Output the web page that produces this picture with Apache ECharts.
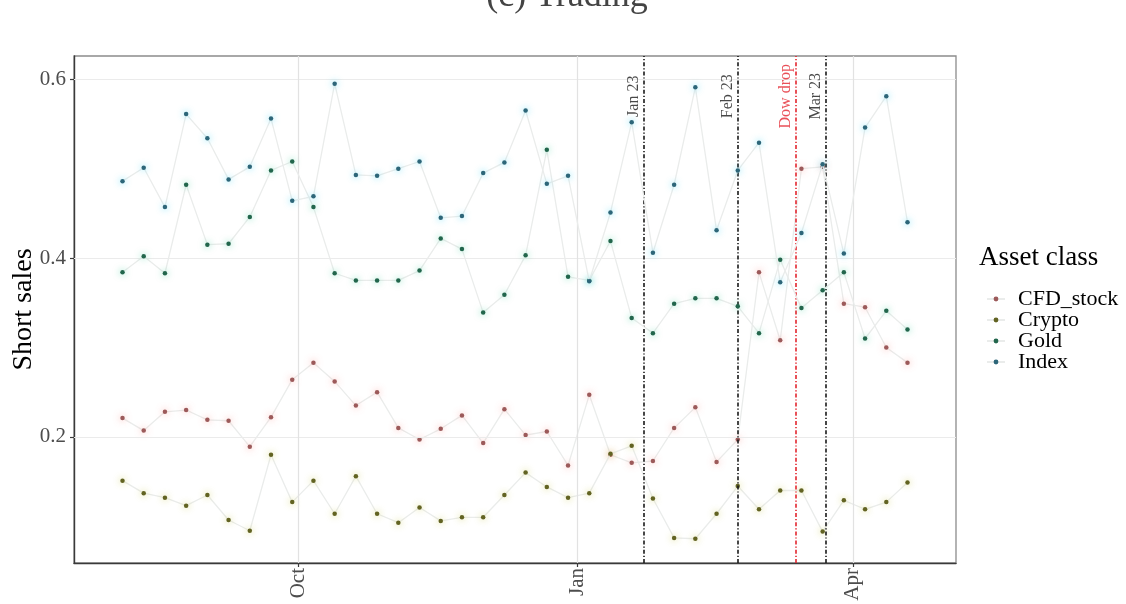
<!DOCTYPE html>
<html>
<head>
<meta charset="utf-8">
<script src="https://cdn.jsdelivr.net/npm/echarts@6/dist/echarts.min.js"></script>
<style>
  html, body { margin: 0; padding: 0; background: #fff; }
  #chart { width: 1126px; height: 604px; }
</style>
</head>
<body>
<div id="chart"></div>
<script>
// Weekly observation dates
const weeks = [
  '2019-08-04','2019-08-11','2019-08-18','2019-08-25',
  '2019-09-01','2019-09-08','2019-09-15','2019-09-22','2019-09-29',
  '2019-10-06','2019-10-13','2019-10-20','2019-10-27',
  '2019-11-03','2019-11-10','2019-11-17','2019-11-24',
  '2019-12-01','2019-12-08','2019-12-15','2019-12-22','2019-12-29',
  '2020-01-05','2020-01-12','2020-01-19','2020-01-26',
  '2020-02-02','2020-02-09','2020-02-16','2020-02-23',
  '2020-03-01','2020-03-08','2020-03-15','2020-03-22','2020-03-29',
  '2020-04-05','2020-04-12','2020-04-19'
];

// Share of short sales by asset class
const cfdStock = [
  0.221, 0.207, 0.228, 0.230, 0.219, 0.218, 0.189, 0.222, 0.264,
  0.283, 0.262, 0.235, 0.250, 0.210, 0.197, 0.209, 0.224, 0.193, 0.231,
  0.202, 0.206, 0.168, 0.247, 0.180, 0.171, 0.173, 0.210, 0.233,
  0.172, 0.197, 0.384, 0.308, 0.500, 0.502, 0.349, 0.345, 0.300, 0.283
];
const crypto = [
  0.151, 0.137, 0.132, 0.123, 0.135, 0.107, 0.095, 0.180, 0.127,
  0.151, 0.114, 0.156, 0.114, 0.104, 0.121, 0.106, 0.110, 0.110, 0.135,
  0.160, 0.144, 0.132, 0.137, 0.181, 0.190, 0.131, 0.087, 0.086,
  0.114, 0.145, 0.119, 0.140, 0.140, 0.094, 0.129, 0.119, 0.127, 0.149
];
const gold = [
  0.384, 0.402, 0.383, 0.482, 0.415, 0.416, 0.446, 0.498, 0.508,
  0.457, 0.383, 0.375, 0.375, 0.375, 0.386, 0.422, 0.410, 0.339, 0.359,
  0.403, 0.521, 0.379, 0.375, 0.419, 0.333, 0.316, 0.349, 0.355,
  0.355, 0.346, 0.316, 0.398, 0.344, 0.364, 0.384, 0.310, 0.341, 0.320
];
const indexCls = [
  0.486, 0.501, 0.457, 0.561, 0.534, 0.488, 0.502, 0.556, 0.464,
  0.469, 0.595, 0.493, 0.492, 0.500, 0.508, 0.445, 0.447, 0.495, 0.507,
  0.565, 0.483, 0.492, 0.374, 0.451, 0.552, 0.406, 0.482, 0.591,
  0.431, 0.498, 0.529, 0.373, 0.428, 0.505, 0.405, 0.546, 0.581, 0.440
];

// Marked events
const eventDates = ['2020-01-23', '2020-02-23', '2020-03-13', '2020-03-23'];
const eventNames = ['Jan 23', 'Feb 23', 'Dow drop', 'Mar 23'];

// Axis breaks
const yTicks = [0.2, 0.4, 0.6];
const xTicks = ['2019-10-01', '2020-01-01', '2020-04-01'];
const xTickLabels = ['Oct', 'Jan', 'Apr'];

const FONT = '"Liberation Serif", "Times New Roman", serif';

// timestamp (UTC midnight) for a date string
function ts(s) {
  const p = s.split('-').map(Number);
  return Date.UTC(p[0], p[1] - 1, p[2]);
}

const xMin = ts('2019-07-19');
const xMax = ts('2020-05-05');
const yMin = 0.0589;
const yMax = 0.626;
const xTickTs = xTicks.map(ts);
const eventLabelY = 0.581;

const classes = [
  { name: 'CFD_stock', values: cfdStock, dot: '#9c5a5a', glow: 'rgba(248,118,109,0.7)' },
  { name: 'Crypto',    values: crypto,   dot: '#626322', glow: 'rgba(190,190,40,0.75)' },
  { name: 'Gold',      values: gold,     dot: '#22664c', glow: 'rgba(0,191,125,0.65)' },
  { name: 'Index',     values: indexCls, dot: '#2d6679', glow: 'rgba(0,200,240,0.7)' }
];

const dataSeries = classes.map((c, k) => ({
  name: c.name,
  type: 'line',
  z: 3 + k,
  symbol: 'circle',
  symbolSize: 4.5,
  showSymbol: true,
  data: weeks.map((w, i) => [ts(w), c.values[i]]),
  lineStyle: { color: '#eaeceb', width: 1.3 },
  itemStyle: { color: c.dot, shadowColor: c.glow, shadowBlur: 7 },
  emphasis: { disabled: true }
}));

// background grid lines at the axis breaks
const gridSeries = {
  name: 'grid',
  type: 'scatter',
  z: 1,
  silent: true,
  symbolSize: 0,
  data: [[xTickTs[0], yTicks[0]]],
  markLine: {
    silent: true,
    symbol: ['none', 'none'],
    label: { show: false },
    animation: false,
    data: yTicks.map(v => ({ yAxis: v, lineStyle: { color: '#ebebeb', width: 1.2, type: 'solid' } }))
      .concat(xTickTs.map(t => ({ xAxis: t, lineStyle: { color: '#e2e2e2', width: 1.2, type: 'solid' } })))
  }
};

// event lines with their rotated labels
const eventColor = n => (n === 'Dow drop' ? '#e3262f' : '#1a1a1a');
const eventSeries = {
  name: 'events',
  type: 'scatter',
  z: 8,
  silent: true,
  symbolSize: 0,
  data: eventDates.map((d, i) => ({
    value: [ts(d), eventLabelY],
    name: eventNames[i],
    label: { color: eventColor(eventNames[i]) }
  })),
  label: {
    show: true,
    position: 'inside',
    formatter: p => p.name,
    rotate: 90,
    offset: [0, -10],
    fontFamily: FONT,
    fontSize: 16
  },
  markLine: {
    silent: true,
    symbol: ['none', 'none'],
    label: { show: false },
    animation: false,
    data: eventDates.map((d, i) => ({
      xAxis: ts(d),
      lineStyle: { color: eventColor(eventNames[i]), width: 1.6, type: [4, 2, 1.2, 2] }
    }))
  }
};

const chart = echarts.init(document.getElementById('chart'), null, { renderer: 'canvas' });

chart.setOption({
  animation: false,
  backgroundColor: '#ffffff',
  grid: {
    left: 74, right: 170, top: 56, bottom: 41,
    outerBoundsMode: 'none',
    containLabel: false,
    show: true, borderColor: '#8c8c8c', borderWidth: 1.3, backgroundColor: 'transparent'
  },
  xAxis: {
    type: 'value',
    min: xMin,
    max: xMax,
    axisLine: { show: true, lineStyle: { color: '#3a3a3a', width: 1.4 } },
    axisTick: { show: true, customValues: xTickTs, length: 4, lineStyle: { color: '#3a3a3a', width: 1.2 } },
    axisLabel: {
      customValues: xTickTs,
      rotate: 90,
      margin: 5,
      fontFamily: FONT,
      fontSize: 21,
      color: '#4d4d4d',
      formatter: v => {
        const k = xTickTs.indexOf(v);
        return k >= 0 ? xTickLabels[k] : '';
      }
    },
    splitLine: { show: false }
  },
  yAxis: {
    type: 'value',
    min: yMin,
    max: yMax,
    name: 'Short sales',
    nameLocation: 'middle',
    nameGap: 36,
    nameMoveOverlap: false,
    nameTextStyle: { fontFamily: FONT, fontSize: 28, color: '#000' },
    axisLine: { show: true, lineStyle: { color: '#3a3a3a', width: 1.4 } },
    axisTick: { show: true, customValues: yTicks, length: 4, lineStyle: { color: '#3a3a3a', width: 1.2 } },
    axisLabel: {
      customValues: yTicks,
      margin: 8,
      fontFamily: FONT,
      fontSize: 21,
      color: '#4d4d4d',
      formatter: v => v.toFixed(1)
    },
    splitLine: { show: false }
  },
  legend: {
    data: classes.map(c => c.name),
    orient: 'vertical',
    left: 981,
    top: 283,
    itemWidth: 18,
    itemHeight: 6,
    itemGap: -1,
    selectedMode: false,
    textStyle: { fontFamily: FONT, fontSize: 22, color: '#000', padding: [0, 0, 0, 8] }
  },
  graphic: [
    {
      type: 'text', x: 567, y: 15, silent: true,
      style: { text: '(c) Trading', fontFamily: FONT, fontSize: 36, fill: '#444', align: 'center', verticalAlign: 'bottom' }
    },
    {
      type: 'text', x: 979, y: 258, silent: true,
      style: { text: 'Asset class', fontFamily: FONT, fontSize: 27, fill: '#000', align: 'left', verticalAlign: 'middle' }
    }
  ],
  series: [gridSeries].concat(dataSeries, [eventSeries])
});
</script>
</body>
</html>
